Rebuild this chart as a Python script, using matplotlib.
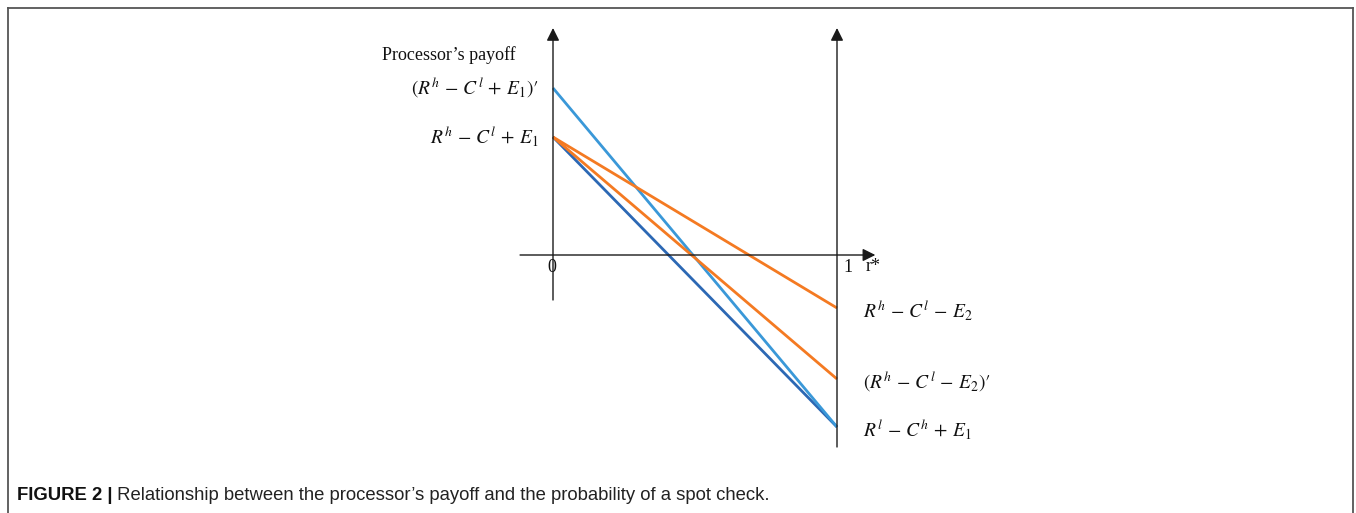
import matplotlib
matplotlib.use("Agg")
import matplotlib.pyplot as plt
from matplotlib.lines import Line2D

# ---- data ----
r_star = [0.0, 1.0]
series_names = ["high E1 (light blue)", "base (dark blue)", "E2 high", "E2 low"]
light_blue = [1.67, -1.72]
dark_blue = [1.18, -1.72]
orange_upper = [1.18, -0.53]
orange_lower = [1.18, -1.24]

left_labels = [r"$(R^h\,-\,C^l\,+\,E_1)$′", r"$R^h\,-\,C^l\,+\,E_1$"]
left_label_vals = [1.67, 1.18]
right_labels = [r"$R^h\,-\,C^l\,-\,E_2$", r"$(R^h\,-\,C^l\,-\,E_2)$′", r"$R^l\,-\,C^h\,+\,E_1$"]
right_label_vals = [-0.53, -1.24, -1.72]

y_title = "Processor’s payoff"
caption_bold = "FIGURE 2 |"
caption_text = " Relationship between the processor’s payoff and the probability of a spot check."

# ---- figure ----
W, H, DPI = 1356, 513, 100
fig = plt.figure(figsize=(W / DPI, H / DPI), dpi=DPI)
plt.rcParams['mathtext.fontset'] = 'stix'

ax = fig.add_axes([0, 0, 1, 1])
x0px, x1px, y0px, ppu = 553, 837, 255, 100.0
ax.set_xlim(-x0px / (x1px - x0px), (W - x0px) / (x1px - x0px))
ax.set_ylim(-(H - y0px) / ppu, y0px / ppu)
ax.axis('off')

# axes lines with arrows
axis_kw = dict(arrowstyle='-|>', color='#1a1a1a', lw=1.0, mutation_scale=19, shrinkA=0, shrinkB=0)
ax.annotate('', xy=(0, 2.27), xytext=(0, -0.45), arrowprops=axis_kw)
ax.annotate('', xy=(1, 2.27), xytext=(1, -1.92), arrowprops=axis_kw)
ax.annotate('', xy=(1.135, 0), xytext=(-0.116, 0), arrowprops=axis_kw)

# series lines
c_light = '#3A98D8'
c_dark = '#2C68B4'
c_orange = '#F47A22'
ax.plot(r_star, dark_blue, color=c_dark, lw=2.0, solid_capstyle='butt')
ax.plot(r_star, light_blue, color=c_light, lw=2.0, solid_capstyle='butt')
ax.plot(r_star, orange_lower, color=c_orange, lw=2.0, solid_capstyle='butt')
ax.plot(r_star, orange_upper, color=c_orange, lw=2.0, solid_capstyle='butt')

# labels
lab_kw = dict(fontsize=14, color='#111111', family='STIXGeneral')
for lab, v in zip(left_labels, left_label_vals):
    ax.text(-0.05, v, lab, ha='right', va='center', **lab_kw)
for lab, v in zip(right_labels, right_label_vals):
    ax.text(1.09, v - 0.03, lab, ha='left', va='center', **lab_kw)

ax.text(-0.13, 2.0, y_title, ha='right', va='center', fontsize=13,
        family='Liberation Serif', color='#111111')
ax.text(-0.005, -0.13, "0", ha='center', va='center', fontsize=13,
        family='Liberation Serif', color='#111111')
ax.text(1.04, -0.13, "1", ha='center', va='center', fontsize=13,
        family='Liberation Serif', color='#111111')
ax.text(1.10, -0.12, "r*", ha='left', va='center', fontsize=13,
        family='Liberation Serif', color='#111111')

# frame (top, left, right)
fc = '#555555'
fig.add_artist(Line2D([8 / W, 1353 / W], [1 - 8 / H, 1 - 8 / H], transform=fig.transFigure, color=fc, lw=1.3))
fig.add_artist(Line2D([8 / W, 8 / W], [0, 1 - 8 / H], transform=fig.transFigure, color=fc, lw=1.3))
fig.add_artist(Line2D([1353 / W, 1353 / W], [0, 1 - 8 / H], transform=fig.transFigure, color=fc, lw=1.3))

# caption
cap_y = 1 - 500 / H
t1 = fig.text(17 / W, cap_y, caption_bold, ha='left', va='baseline', fontsize=13.3,
              family='Liberation Sans', weight='bold', color='#111111')
fig.canvas.draw()
bb = t1.get_window_extent(renderer=fig.canvas.get_renderer())
fig.text(bb.x1 / W, cap_y, caption_text, ha='left', va='baseline', fontsize=13.3,
         family='Liberation Sans', color='#222222')

fig.savefig('out.png', dpi=DPI)
